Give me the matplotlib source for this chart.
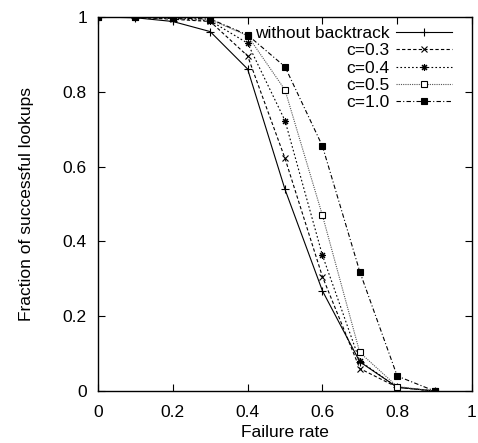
import matplotlib
matplotlib.use('Agg')
import matplotlib.pyplot as plt
from matplotlib.ticker import FuncFormatter

plt.rcParams['font.family'] = ['Liberation Sans', 'DejaVu Sans']

failure_rate = [0.0, 0.1, 0.2, 0.3, 0.4, 0.5, 0.6, 0.7, 0.8, 0.9]
without_backtrack = [1.0, 0.998, 0.988, 0.961, 0.861, 0.539, 0.268, 0.078, 0.010, 0.0]
c03 = [1.0, 0.999, 0.994, 0.988, 0.896, 0.622, 0.306, 0.060, 0.010, 0.0]
c04 = [1.0, 0.999, 0.996, 0.990, 0.930, 0.723, 0.363, 0.080, 0.010, 0.0]
c05 = [1.0, 1.0, 0.997, 0.993, 0.950, 0.805, 0.470, 0.103, 0.012, 0.0]
c10 = [1.0, 1.0, 0.997, 0.995, 0.952, 0.867, 0.655, 0.319, 0.040, 0.0]

series = [
    ('without backtrack', without_backtrack, dict(ls='-', marker='+', ms=6, color='black')),
    ('c=0.3', c03, dict(ls=(0, (3, 2)), marker='x', ms=5, color='black')),
    ('c=0.4', c04, dict(ls=(0, (1.5, 2)), marker=(8, 2, 0), ms=5, color='black')),
    ('c=0.5', c05, dict(ls=(0, (1, 1)), marker='s', ms=5, color='#555555', mfc='white', mec='black')),
    ('c=1.0', c10, dict(ls=(0, (4, 2, 1, 2)), marker='s', ms=5, color='black')),
]

FS = 12.5

fig = plt.figure(figsize=(4.78, 4.43), dpi=100)
ax = fig.add_axes([98/478, 1-391/443, 374/478, 374/443])

for label, ys, st in series:
    ax.plot(failure_rate, ys, lw=0.8, mew=0.8, label=label, **st)

ax.set_xlim(0, 1)
ax.set_ylim(0, 1)
ticks = [0, 0.2, 0.4, 0.6, 0.8, 1.0]
ax.set_xticks(ticks)
ax.set_yticks(ticks)
fmt = FuncFormatter(lambda v, p: '%g' % v)
ax.xaxis.set_major_formatter(fmt)
ax.yaxis.set_major_formatter(fmt)
ax.tick_params(direction='in', length=5, width=0.8, top=True, right=True, labelsize=FS)
ax.tick_params(axis='x', pad=10)
ax.tick_params(axis='y', pad=8)
for s in ax.spines.values():
    s.set_linewidth(1.0)

ax.set_xlabel('Failure rate', fontsize=FS, labelpad=4)
ax.set_ylabel('Fraction of successful lookups', fontsize=FS, labelpad=21)

ax.legend(loc='upper right', bbox_to_anchor=(452/478, 1-26/443), bbox_transform=fig.transFigure,
          frameon=False, markerfirst=False, fontsize=FS, handlelength=3.2, handletextpad=0.4,
          labelspacing=0.12, borderpad=0, borderaxespad=0)

fig.savefig('out.png', dpi=100)
